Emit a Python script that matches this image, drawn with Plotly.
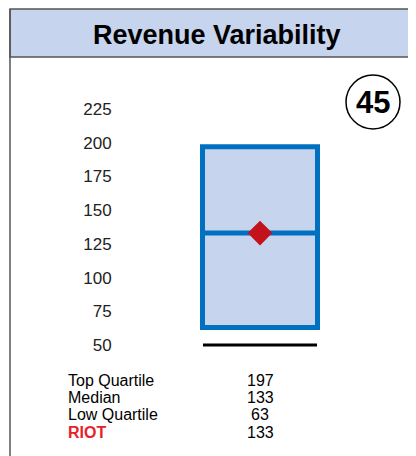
import plotly.graph_objects as go

# ---- data ----
title = "Revenue Variability"
badge = "45"
stat_labels = ["Top Quartile", "Median", "Low Quartile", "RIOT"]
top_quartile = 197
median = 133
low_quartile = 63
riot = 133
stat_values = [top_quartile, median, low_quartile, riot]
tick_vals = [50, 75, 100, 125, 150, 175, 200, 225]
baseline = 50

# page body has an 8px margin; figure sized to fit the window
OFF = 8
W, H = 416 - OFF, 456 - OFF
def px(x): return (x - OFF) / W
def py(y): return 1 - (y - OFF) / H

FONT = "Liberation Sans, Arial, Helvetica, sans-serif"
BOX_FILL = "#c6d4ed"
BOX_LINE = "#0070c0"

# y axis: value 50 at pixel 345, 225 at pixel 109 (window coords)
ppu = (345 - 109) / 175.0
y_lo, y_hi = 40, 235
dom_bot = py(345 + (50 - y_lo) * ppu)
dom_top = py(109 - (y_hi - 225) * ppu)

x_left_px, x_right_px = 120, 400
ppx = (x_right_px - x_left_px) / 2.0  # pixels per x unit, range [-1,1]

fig = go.Figure()

fig.add_trace(go.Box(
    x=[0], q1=[low_quartile], median=[median], q3=[top_quartile],
    lowerfence=[low_quartile], upperfence=[top_quartile],
    width=115 / ppx, fillcolor=BOX_FILL,
    line=dict(color=BOX_LINE, width=5), whiskerwidth=0,
    boxpoints=False, hoverinfo="skip", showlegend=False,
))

# baseline line
fig.add_trace(go.Scatter(
    x=[-114 / 2 / ppx, 114 / 2 / ppx], y=[baseline, baseline], mode="lines",
    line=dict(color="black", width=3), hoverinfo="skip", showlegend=False,
))

# RIOT diamond
fig.add_trace(go.Scatter(
    x=[0], y=[riot], mode="markers",
    marker=dict(symbol="diamond", size=19, color="#c3121c", line=dict(width=0)),
    hoverinfo="skip", showlegend=False,
))

shapes = [
    # header band
    dict(type="rect", xref="paper", yref="paper", x0=px(10), x1=px(425), y0=py(57), y1=py(9),
         fillcolor=BOX_FILL, line=dict(color="#555555", width=1.5), layer="below"),
    # left border
    dict(type="line", xref="paper", yref="paper", x0=px(10), x1=px(10), y0=py(9), y1=py(470),
         line=dict(color="#555555", width=1.5)),
    # badge circle
    dict(type="circle", xref="paper", yref="paper", x0=px(346), x1=px(400), y0=py(129), y1=py(75),
         line=dict(color="black", width=1.5)),
]

annotations = [
    dict(text="<b>" + title + "</b>", x=px(217), y=py(35), xref="paper", yref="paper",
         showarrow=False, font=dict(family=FONT, size=27, color="black"),
         xanchor="center", yanchor="middle"),
    dict(text="<b>" + badge + "</b>", x=px(373), y=py(102), xref="paper", yref="paper",
         showarrow=False, font=dict(family=FONT, size=31, color="black"),
         xanchor="center", yanchor="middle"),
]

row_y = [380, 397, 414, 432]
for lab, val, yy in zip(stat_labels, stat_values, row_y):
    is_riot = lab == "RIOT"
    annotations.append(dict(
        text=("<b>" + lab + "</b>") if is_riot else lab,
        x=px(66), y=py(yy), xref="paper", yref="paper", showarrow=False,
        font=dict(family=FONT, size=16, color="#e8202a" if is_riot else "black"),
        xanchor="left", yanchor="middle"))
    annotations.append(dict(
        text=str(val), x=px(260), y=py(yy), xref="paper", yref="paper", showarrow=False,
        font=dict(family=FONT, size=16, color="black"),
        xanchor="center", yanchor="middle"))

fig.update_layout(
    width=W, height=H, margin=dict(l=0, r=0, t=0, b=0),
    paper_bgcolor="white", plot_bgcolor="white",
    shapes=shapes, annotations=annotations,
    xaxis=dict(domain=[px(x_left_px), px(x_right_px)], range=[-1, 1], visible=False, fixedrange=True),
    yaxis=dict(domain=[dom_bot, dom_top], range=[y_lo, y_hi], tickvals=tick_vals,
               showgrid=False, zeroline=False, showline=False, ticks="outside",
               ticklen=4, tickcolor="rgba(0,0,0,0)",
               tickfont=dict(family=FONT, size=17, color="#222222"), fixedrange=True),
    font=dict(family=FONT),
    showlegend=False,
)

fig.write_html("out.html", config={"displayModeBar": False})
